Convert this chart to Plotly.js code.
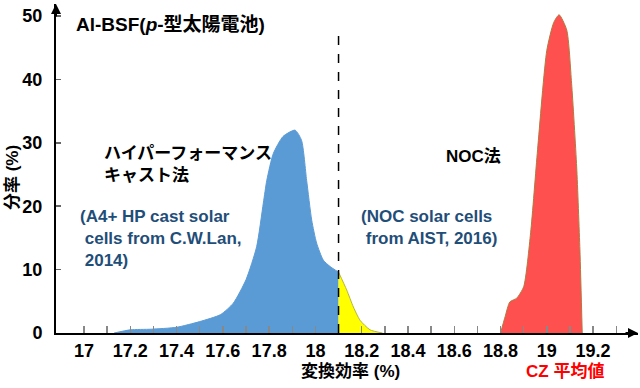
<!DOCTYPE html>
<html>
<head>
<meta charset="utf-8">
<script src="https://cdn.plot.ly/plotly-3.0.1.min.js"></script>
<style>html,body{margin:0;padding:0;background:#fff;}#chart{width:640px;height:388px;}</style>
</head>
<body>
<div id="chart"></div>
<script>
// Data
const blueX = [17.13, 17.2, 17.29, 17.4, 17.5, 17.59, 17.645, 17.7, 17.746, 17.775, 17.79, 17.818, 17.86, 17.912, 17.94, 17.962, 17.984, 18.005, 18.034, 18.063, 18.1];
const blueY = [0, 0.5, 0.6, 0.9, 1.8, 2.9, 4.7, 8.4, 13.6, 20.5, 24.1, 28.3, 31.0, 32.0, 30.4, 24.1, 17.8, 14.2, 11.5, 10.5, 9.6];
const yellowX = [18.1, 18.135, 18.164, 18.193, 18.236, 18.29];
const yellowY = [9.6, 6.8, 4.1, 2.0, 0.5, 0];
const redX = [18.80, 18.82, 18.84, 18.87, 18.90, 18.93, 18.96, 19.0, 19.03, 19.053, 19.086, 19.107, 19.129, 19.143, 19.153];
const redY = [0, 2.6, 4.9, 5.5, 7.3, 15.8, 28.9, 44.6, 49.0, 50.2, 47.8, 39.4, 26.2, 13.1, 0];
const xTickVals = [17, 17.1, 17.2, 17.3, 17.4, 17.5, 17.6, 17.7, 17.8, 17.9, 18, 18.1, 18.2, 18.3, 18.4, 18.5, 18.6, 18.7, 18.8, 18.9, 19, 19.1, 19.2, 19.3];
const xTickText = ['17', '', '17.2', '', '17.4', '', '17.6', '', '17.8', '', '18', '', '18.2', '', '18.4', '', '18.6', '', '18.8', '', '19', '', '19.2', ''];
const yTickVals = [0, 10, 20, 30, 40, 50];
const splitX = 18.1;
const czX = 19.1;

const FONT = "Arial, 'Liberation Sans', 'Noto Sans CJK JP', sans-serif";
const BLUE_TXT = '#1f4e79';

const traces = [
  {x: blueX, y: blueY, type: 'scatter', mode: 'lines', fill: 'tozeroy',
   fillcolor: '#5b9bd5', line: {color: '#5b9bd5', width: 1, shape: 'spline', smoothing: 0.6}, hoverinfo: 'skip'},
  {x: yellowX, y: yellowY, type: 'scatter', mode: 'lines', fill: 'tozeroy',
   fillcolor: '#ffff00', line: {color: '#b5b53a', width: 1, shape: 'spline', smoothing: 0.6}, hoverinfo: 'skip'},
  {x: redX, y: redY, type: 'scatter', mode: 'lines', fill: 'tozeroy',
   fillcolor: '#ff5050', line: {color: '#b07a40', width: 1, shape: 'spline', smoothing: 0.6}, hoverinfo: 'skip'}
];

const layout = {
  width: 640, height: 388,
  margin: {l: 56, r: 2, t: 4, b: 55},
  paper_bgcolor: '#fff', plot_bgcolor: '#fff',
  showlegend: false,
  font: {family: FONT, size: 17, color: '#000', weight: 'bold'},
  xaxis: {
    range: [16.879, 19.394], showgrid: false, zeroline: false,
    showline: true, linecolor: '#000', linewidth: 2,
    tickmode: 'array', tickvals: xTickVals, ticktext: xTickText,
    ticks: 'inside', ticklen: 7, tickcolor: '#888', tickwidth: 1.5,
    tickfont: {family: FONT, size: 18, color: '#000', weight: 'bold'}
  },
  yaxis: {
    range: [0, 51.9], showgrid: false, zeroline: false,
    showline: true, linecolor: '#000', linewidth: 2,
    tickmode: 'array', tickvals: yTickVals,
    ticks: 'inside', ticklen: 5, tickcolor: '#666', tickwidth: 1.5,
    ticklabelstandoff: 8,
    tickfont: {family: FONT, size: 18, color: '#000', weight: 'bold'}
  },
  shapes: [
    {type: 'line', xref: 'x', yref: 'y', x0: splitX, x1: splitX, y0: 0, y1: 46.85,
     line: {color: '#000', width: 1.5, dash: 'dash'}}
  ],
  annotations: [
    // axis arrows
    {xref: 'paper', yref: 'paper', x: 1, y: 0, ax: -14, ay: 0, axref: 'pixel', ayref: 'pixel',
     showarrow: true, arrowhead: 2, arrowsize: 1, arrowwidth: 2, arrowcolor: '#000', text: ''},
    {xref: 'paper', yref: 'paper', x: 0, y: 1, ax: 0, ay: 14, axref: 'pixel', ayref: 'pixel',
     showarrow: true, arrowhead: 2, arrowsize: 1, arrowwidth: 2, arrowcolor: '#000', text: ''},
    // axis titles
    {xref: 'paper', yref: 'paper', x: -0.0756, y: 0.471, xanchor: 'center', yanchor: 'middle', textangle: -90, showarrow: false,
     text: '分率 (%)', font: {family: FONT, size: 17, color: '#000', weight: 'bold'}},
    {xref: 'x', yref: 'paper', x: 18.15, y: -0.1185, xanchor: 'center', yanchor: 'middle', showarrow: false,
     text: '変換効率 (%)', font: {family: FONT, size: 17, color: '#000', weight: 'bold'}},
    // CZ
    {xref: 'x', yref: 'paper', x: 19.079, y: -0.1185, xanchor: 'center', yanchor: 'middle', showarrow: false,
     text: 'CZ 平均値', font: {family: FONT, size: 17, color: '#ff0000', weight: 'bold'}},
    {xref: 'x', yref: 'y', x: czX, y: -0.6, ax: 0, ay: 20, showarrow: true,
     arrowhead: 2, arrowsize: 1, arrowwidth: 1.5, arrowcolor: '#ff0000', text: ''},
    // labels
    {xref: 'x', yref: 'y', x: 16.957, y: 48.6, xanchor: 'left', yanchor: 'middle', showarrow: false,
     text: 'Al-BSF(<i>p</i>-型太陽電池)', font: {family: FONT, size: 19, color: '#000', weight: 'bold'}},
    {xref: 'x', yref: 'y', x: 17.078, y: 26.66, xanchor: 'left', yanchor: 'middle', align: 'left', showarrow: false,
     text: 'ハイパーフォーマンス<br>キャスト法', font: {family: FONT, size: 17, color: '#000', weight: 'bold'}},
    {xref: 'x', yref: 'y', x: 18.685, y: 27.92, xanchor: 'center', yanchor: 'middle', showarrow: false,
     text: 'NOC法', font: {family: FONT, size: 17, color: '#000', weight: 'bold'}},
    {xref: 'x', yref: 'y', x: 16.974, y: 14.83, xanchor: 'left', yanchor: 'middle', align: 'left', showarrow: false,
     text: '(A4+ HP cast solar<br>\u00a0cells from C.W.Lan,<br>\u00a02014)', font: {family: FONT, size: 17, color: BLUE_TXT, weight: 'bold'}},
    {xref: 'x', yref: 'y', x: 18.188, y: 16.64, xanchor: 'left', yanchor: 'middle', align: 'left', showarrow: false,
     text: '(NOC solar cells<br>\u00a0from AIST, 2016)', font: {family: FONT, size: 17, color: BLUE_TXT, weight: 'bold'}}
  ]
};

Plotly.newPlot('chart', traces, layout, {displayModeBar: false, staticPlot: true});
</script>
</body>
</html>
